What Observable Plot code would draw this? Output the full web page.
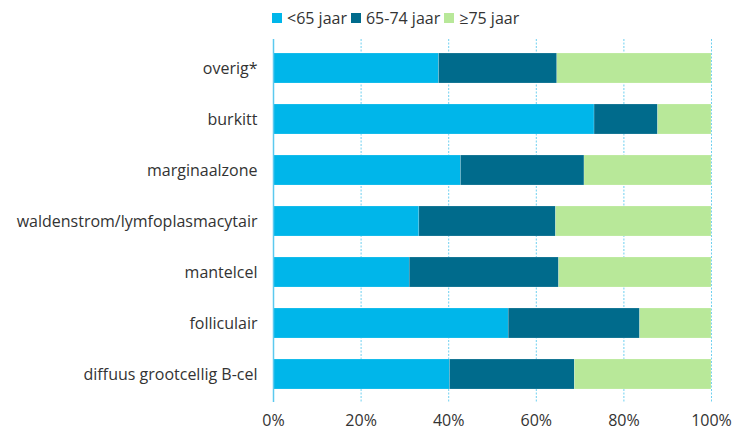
<!DOCTYPE html>
<html>
<head>
<meta charset="utf-8">
<script src="https://cdn.jsdelivr.net/npm/d3@7"></script>
<script src="https://cdn.jsdelivr.net/npm/@observablehq/plot@0.6"></script>
<style>
  body { margin: 0; background: #fff; font-family: "Open Sans", "Noto Sans", sans-serif; }
  #legend { height: 32px; display: flex; align-items: center; padding-left: 272px; font-size: 16px; color: #333; box-sizing: border-box; padding-top: 4px; }
  #legend .item { display: flex; align-items: center; margin-right: 4px; }
  #legend .sw { width: 10px; height: 10px; margin-right: 5px; }
  svg { display: block; }
</style>
</head>
<body>
<div id="legend"></div>
<div id="chart"></div>
<script>
const categories = ["overig*", "burkitt", "marginaalzone", "waldenstrom/lymfoplasmacytair", "mantelcel", "folliculair", "diffuus grootcellig B-cel"];
const seriesNames = ["<65 jaar", "65-74 jaar", "≥75 jaar"];
const seriesColors = ["#00b6ea", "#006b8c", "#b8e899"];
const under65 = [37.8, 73.3, 42.8, 33.3, 31.1, 53.7, 40.3];
const age65to74 = [27.0, 14.5, 28.2, 31.2, 34.1, 30.0, 28.5];
const age75plus = [35.2, 12.2, 29.0, 35.5, 34.8, 16.3, 31.2];
const xTicks = [0, 20, 40, 60, 80, 100];

const seriesValues = [under65, age65to74, age75plus];
const data = [];
seriesNames.forEach((s, si) => categories.forEach((c, ci) => data.push({cat: c, age: s, value: seriesValues[si][ci]})));

const legend = document.getElementById("legend");
seriesNames.forEach((s, i) => {
  const it = document.createElement("div");
  it.className = "item";
  it.innerHTML = `<div class="sw" style="background:${seriesColors[i]}"></div><span></span>`;
  it.querySelector("span").textContent = s;
  legend.appendChild(it);
});

const chart = Plot.plot({
  width: 732,
  height: 398,
  marginTop: 7,
  marginBottom: 28,
  marginLeft: 273,
  marginRight: 21,
  style: {fontFamily: "'Open Sans', 'Noto Sans', sans-serif", fontSize: "16px", color: "#333", background: "#fff"},
  x: {domain: [0, 100], ticks: xTicks, tickFormat: d => d + "%", tickSize: 0, tickPadding: 12, label: null},
  y: {domain: categories, paddingInner: 0.42, paddingOuter: 0.21, tickSize: 0, tickPadding: 16, label: null},
  color: {domain: seriesNames, range: seriesColors},
  marks: [
    Plot.gridX({ticks: xTicks.slice(1), stroke: "#6fd0f0", strokeOpacity: 1, strokeDasharray: "2,1.5", strokeWidth: 1}),
    Plot.barX(data, Plot.stackX({x: "value", y: "cat", fill: "age", order: seriesNames, stroke: "#fff", strokeOpacity: 0.35, strokeWidth: 0.5})),
    Plot.ruleX([0], {stroke: "#5cc9ef", strokeWidth: 1.5})
  ]
});
document.getElementById("chart").appendChild(chart);
</script>
</body>
</html>
